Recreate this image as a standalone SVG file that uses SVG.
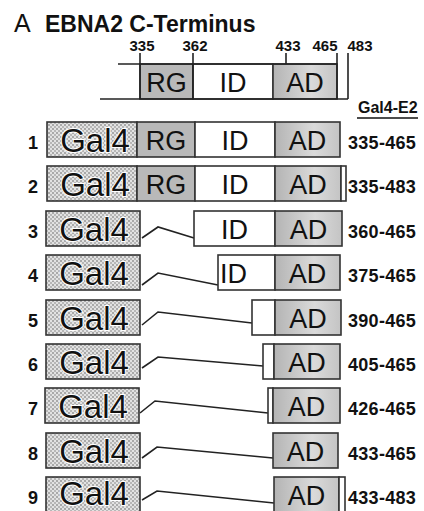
<svg xmlns="http://www.w3.org/2000/svg" width="424" height="511" viewBox="0 0 424 511">
<defs>
<pattern id="dots" width="4" height="4" patternUnits="userSpaceOnUse">
<rect width="4" height="4" fill="#e2e2e2"/>
<circle cx="1" cy="1" r="0.75" fill="#555"/>
<circle cx="3" cy="3" r="0.75" fill="#777"/>
</pattern>
<linearGradient id="adg" x1="0" y1="0" x2="1" y2="0">
<stop offset="0" stop-color="#b4b4b4"/>
<stop offset="0.6" stop-color="#dadada"/>
<stop offset="1" stop-color="#c4c4c4"/>
</linearGradient>
</defs>
<style>
.box{stroke:#333;stroke-width:1.6}
.gal{fill:url(#dots)}
.rg{fill:#b9b9b9}
.id{fill:#fff}
.ad{fill:url(#adg)}
.wh{fill:#fff}
.dom{font-family:"Liberation Sans",Arial,sans-serif;font-size:27px;text-anchor:middle;fill:#111}
.galt{font-family:"Liberation Sans",Arial,sans-serif;font-size:33px;text-anchor:middle;fill:#111;stroke:#fff;stroke-width:2;paint-order:stroke}
.num{font-family:"Liberation Sans",Arial,sans-serif;font-size:18px;font-weight:bold;text-anchor:middle;fill:#111}
.lab{font-family:"Liberation Sans",Arial,sans-serif;font-size:18px;font-weight:bold;fill:#111;letter-spacing:0.3px}
.pos{font-family:"Liberation Sans",Arial,sans-serif;font-size:15px;font-weight:bold;text-anchor:middle;fill:#111}
.ln{stroke:#222;stroke-width:1.6;fill:none}
</style>
<g id="title">
<text x="14" y="32" font-family="Liberation Sans,Arial,sans-serif" font-size="25" fill="#111">A</text>
<text x="45" y="32" font-family="Liberation Sans,Arial,sans-serif" font-size="23" font-weight="bold" fill="#111">EBNA2 C-Terminus</text>
</g>
<g id="map">
<rect class="box rg" x="140" y="64" width="53" height="35"/>
<rect class="box id" x="193" y="64" width="80" height="35"/>
<rect class="box ad" x="273" y="64" width="64" height="35"/>
<line class="ln" x1="118" y1="64" x2="337" y2="64"/>
<line class="ln" x1="100" y1="99" x2="348" y2="99"/>
<line class="ln" x1="140" y1="53" x2="140" y2="99"/>
<line class="ln" x1="193" y1="53" x2="193" y2="99"/>
<line class="ln" x1="286" y1="53" x2="286" y2="64"/>
<line class="ln" x1="337" y1="53" x2="337" y2="99"/>
<line class="ln" x1="348" y1="53" x2="348" y2="99"/>
<text class="dom" x="166.5" y="92">RG</text>
<text class="dom" x="233" y="92">ID</text>
<text class="dom" x="305" y="92">AD</text>
<text class="pos" x="142" y="51">335</text>
<text class="pos" x="195" y="51">362</text>
<text class="pos" x="288" y="51">433</text>
<text class="pos" x="325" y="51">465</text>
<text class="pos" x="360" y="51">483</text>
<text x="358" y="113" font-family="Liberation Sans,Arial,sans-serif" font-size="16" font-weight="bold" fill="#111">Gal4-E2</text>
<line x1="357" y1="118" x2="418" y2="118" stroke="#111" stroke-width="1.6"/>
</g>
<g id="connectors">
<polyline class="ln" points="142,238 158,227 194,238"/>
<polyline class="ln" points="142,285 158,273 218,285"/>
<polyline class="ln" points="142,325 158,312 252,323"/>
<polyline class="ln" points="142,368 158,357 263,366"/>
<polyline class="ln" points="140,413 155,401 268,413"/>
<polyline class="ln" points="142,458 157,447 273,458"/>
<polyline class="ln" points="142,500 157,491 274,503"/>
</g>
<g id="row1">
<text class="num" x="33" y="149">1</text>
<rect class="box gal" x="47" y="122" width="90" height="35"/>
<text class="galt" x="95" y="152">Gal4</text>
<rect class="box rg" x="137" y="122" width="58" height="35"/>
<rect class="box id" x="195" y="122" width="80" height="35"/>
<rect class="box ad" x="275" y="122" width="65" height="35"/>
<text class="dom" x="166" y="150">RG</text>
<text class="dom" x="235" y="150">ID</text>
<text class="dom" x="307.5" y="150">AD</text>
<text class="lab" x="348" y="149">335-465</text>
</g>
<g id="row2">
<text class="num" x="33" y="193">2</text>
<rect class="box gal" x="47" y="166" width="90" height="35"/>
<text class="galt" x="95" y="196">Gal4</text>
<rect class="box rg" x="137" y="166" width="58" height="35"/>
<rect class="box id" x="195" y="166" width="80" height="35"/>
<rect class="box ad" x="275" y="166" width="66" height="35"/>
<rect class="box wh" x="341" y="166" width="5" height="35"/>
<text class="dom" x="166" y="194">RG</text>
<text class="dom" x="235" y="194">ID</text>
<text class="dom" x="308" y="194">AD</text>
<text class="lab" x="348" y="193">335-483</text>
</g>
<g id="row3">
<text class="num" x="33" y="238">3</text>
<rect class="box gal" x="46" y="211" width="94" height="35"/>
<text class="galt" x="94" y="241">Gal4</text>
<rect class="box id" x="194" y="211" width="81" height="35"/>
<rect class="box ad" x="275" y="211" width="67" height="35"/>
<text class="dom" x="234.5" y="239">ID</text>
<text class="dom" x="308.5" y="239">AD</text>
<text class="lab" x="348" y="238">360-465</text>
</g>
<g id="row4">
<text class="num" x="33" y="282">4</text>
<rect class="box gal" x="46" y="255" width="94" height="35"/>
<text class="galt" x="94" y="285">Gal4</text>
<rect class="box id" x="218" y="255" width="57" height="35"/>
<rect class="box ad" x="275" y="255" width="65" height="35"/>
<text class="dom" x="220" y="283" style="text-anchor:start">ID</text>
<text class="dom" x="307.5" y="283">AD</text>
<text class="lab" x="348" y="282">375-465</text>
</g>
<g id="row5">
<text class="num" x="33" y="327">5</text>
<rect class="box gal" x="46" y="300" width="94" height="35"/>
<text class="galt" x="94" y="330">Gal4</text>
<rect class="box wh" x="252" y="300" width="23" height="35"/>
<rect class="box ad" x="275" y="300" width="66" height="35"/>
<text class="dom" x="308" y="328">AD</text>
<text class="lab" x="348" y="327">390-465</text>
</g>
<g id="row6">
<text class="num" x="33" y="371">6</text>
<rect class="box gal" x="46" y="344" width="94" height="35"/>
<text class="galt" x="94" y="374">Gal4</text>
<rect class="box wh" x="263" y="344" width="11" height="35"/>
<rect class="box ad" x="274" y="344" width="66" height="35"/>
<text class="dom" x="307" y="372">AD</text>
<text class="lab" x="348" y="371">405-465</text>
</g>
<g id="row7">
<text class="num" x="33" y="415">7</text>
<rect class="box gal" x="45" y="388" width="94" height="35"/>
<text class="galt" x="93" y="418">Gal4</text>
<rect class="box wh" x="268" y="388" width="5" height="35"/>
<rect class="box ad" x="273" y="388" width="67" height="35"/>
<text class="dom" x="306.5" y="416">AD</text>
<text class="lab" x="348" y="415">426-465</text>
</g>
<g id="row8">
<text class="num" x="33" y="460">8</text>
<rect class="box gal" x="46" y="433" width="94" height="35"/>
<text class="galt" x="94" y="463">Gal4</text>
<rect class="box ad" x="273" y="433" width="65" height="35"/>
<text class="dom" x="305.5" y="461">AD</text>
<text class="lab" x="348" y="460">433-465</text>
</g>
<g id="row9">
<text class="num" x="33" y="504">9</text>
<rect class="box gal" x="46" y="477" width="94" height="35"/>
<text class="galt" x="94" y="505">Gal4</text>
<rect class="box ad" x="274" y="477" width="65" height="35"/>
<rect class="box wh" x="339" y="477" width="6" height="35"/>
<text class="dom" x="306.5" y="505">AD</text>
<text class="lab" x="348" y="504">433-483</text>
</g>
</svg>
